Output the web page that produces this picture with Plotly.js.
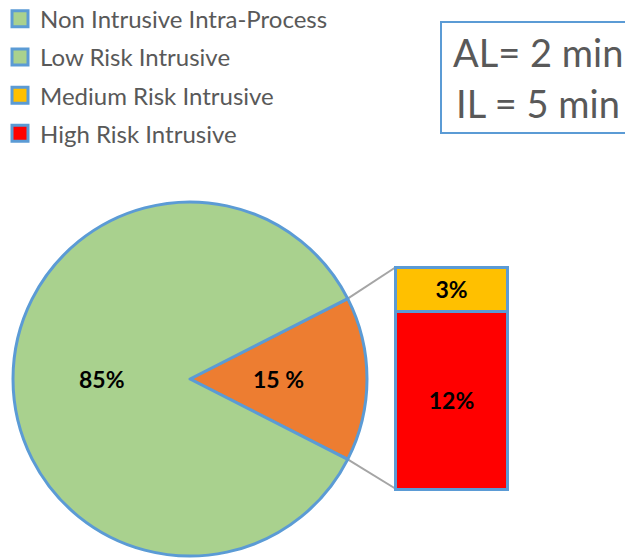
<!DOCTYPE html>
<html>
<head>
<meta charset="utf-8">
<script src="https://cdn.plot.ly/plotly-3.0.1.min.js"></script>
<style>html,body{margin:0;padding:0;background:#fff;}#chart{width:625px;height:559px;}</style>
</head>
<body>
<div id="chart"></div>
<script>
// ---- data ----
const pieCategories = ["Intrusive", "Non Intrusive Intra-Process"];
const pieValues = [15, 85];
const pieText = ["15 %", "85%"];
const barCategories = ["High Risk Intrusive", "Medium Risk Intrusive"];
const barValues = [12, 3];
const barText = ["12%", "3%"];
const legendLabels = ["Non Intrusive Intra-Process", "Low Risk Intrusive", "Medium Risk Intrusive", "High Risk Intrusive"];
const boxLines = ["AL= 2 min", "IL = 5 min"];

// ---- style ----
const W = 625, H = 559;
const GREEN = "#A9D18E", ORANGE = "#ED7D31", YELLOW = "#FFC000", RED = "#FF0000";
const BLUE = "#5B9BD5", GREY_TXT = "#595959";
const FONT = "Lato, 'Open Sans', sans-serif";

// pie placement (pixels)
const pieCx = 190, pieCy = 379, pieR = 177;
const pieDomX = [(pieCx - pieR) / W, (pieCx + pieR) / W];
const pieDomY = [(H - pieCy - pieR) / H, (H - pieCy + pieR) / H];

// bar axis placement
const xDomPx = [390, 513], yDomPx = [262, 494]; // left,right ; top,bottom (px from top)
const xRange = [-0.554, 0.554];
const yRange = [-0.338, 15.338];
const xDom = [xDomPx[0] / W, xDomPx[1] / W];
const yDom = [(H - yDomPx[1]) / H, (H - yDomPx[0]) / H];
function xToPaper(v) { return xDom[0] + (v - xRange[0]) / (xRange[1] - xRange[0]) * (xDom[1] - xDom[0]); }
function yToPaper(v) { return yDom[0] + (v - yRange[0]) / (yRange[1] - yRange[0]) * (yDom[1] - yDom[0]); }

// connector lines from edge of the small pie slice to bar corners
const total = pieValues.reduce((a, b) => a + b, 0);
const half = pieValues[0] / total * Math.PI; // half angle of first slice (radians)
const barTotal = barValues.reduce((a, b) => a + b, 0);
const edgeTop = { x: (pieCx + pieR * Math.cos(half)) / W, y: (H - (pieCy - pieR * Math.sin(half))) / H };
const edgeBot = { x: (pieCx + pieR * Math.cos(half)) / W, y: (H - (pieCy + pieR * Math.sin(half))) / H };
const barLeft = xToPaper(-0.5);

// pie labels at half radius along each slice's mid-angle (clockwise from 3 o'clock)
const pieLabelAnn = [];
let startFrac = -pieValues[0] / total / 2;
pieValues.forEach((v, i) => {
  const mid = (startFrac + v / total / 2) * 2 * Math.PI;
  startFrac += v / total;
  const px = pieCx + 0.5 * pieR * Math.cos(mid);
  const py = pieCy + 0.5 * pieR * Math.sin(mid);
  pieLabelAnn.push({ xref: "paper", yref: "paper", x: px / W, y: (H - py) / H, xanchor: "center", yanchor: "middle",
    text: "<b>" + pieText[i] + "</b>", showarrow: false, font: { family: FONT, size: 23, color: "#000" } });
});

const traces = [];
traces.push({
  type: "pie",
  labels: pieCategories,
  values: pieValues,
  textinfo: "none",
  textposition: "none",
  sort: false,
  direction: "clockwise",
  rotation: 90 - pieValues[0] / total * 180,
  marker: { colors: [ORANGE, GREEN], line: { color: BLUE, width: 3 } },
  domain: { x: pieDomX, y: pieDomY },
  showlegend: false,
  hoverinfo: "label+percent"
});
const barColors = [RED, YELLOW];
barCategories.forEach((c, i) => {
  traces.push({
    type: "bar",
    x: [0],
    y: [barValues[i]],
    name: c,
    text: [barText[i]],
    texttemplate: "<b>%{text}</b>",
    textposition: "inside",
    insidetextanchor: "middle",
    textfont: { family: FONT, size: 23, color: "#000" },
    constraintext: "none",
    width: 1,
    marker: { color: barColors[i], line: { color: BLUE, width: 3 } },
    showlegend: false,
    xaxis: "x", yaxis: "y"
  });
});
const legendColors = [GREEN, GREEN, YELLOW, RED];
legendLabels.forEach((l, i) => {
  traces.push({
    type: "scatter", mode: "markers",
    x: [null], y: [null],
    name: l,
    legendgroup: "g" + i,
    legendrank: i + 1,
    marker: { symbol: "square", size: 17, color: legendColors[i], line: { color: BLUE, width: 3 } },
    hoverinfo: "skip"
  });
});

const layout = {
  width: W, height: H,
  margin: { l: 0, r: 0, t: 0, b: 0, autoexpand: false },
  paper_bgcolor: "#fff", plot_bgcolor: "rgba(0,0,0,0)",
  barmode: "stack",
  bargap: 0,
  showlegend: true,
  legend: {
    x: 0, y: 1.006, xanchor: "left", yanchor: "top",
    traceorder: "grouped", tracegroupgap: 4,
    font: { family: FONT, size: 24, color: GREY_TXT },
    bgcolor: "rgba(0,0,0,0)", itemwidth: 30
  },
  xaxis: { domain: xDom, range: xRange, visible: false, fixedrange: true },
  yaxis: { domain: yDom, range: yRange, visible: false, fixedrange: true },
  shapes: [
    { type: "line", xref: "paper", yref: "paper", x0: edgeTop.x, y0: edgeTop.y, x1: barLeft, y1: yToPaper(barTotal), line: { color: "#A5A5A5", width: 2 }, layer: "below" },
    { type: "line", xref: "paper", yref: "paper", x0: edgeBot.x, y0: edgeBot.y, x1: barLeft, y1: yToPaper(0), line: { color: "#A5A5A5", width: 2 }, layer: "below" },
    { type: "rect", xref: "paper", yref: "paper", x0: 441 / W, x1: 1.2, y0: (H - 133) / H, y1: (H - 22) / H, line: { color: BLUE, width: 2 }, fillcolor: "rgba(0,0,0,0)" }
  ],
  annotations: [
    { xref: "paper", yref: "paper", x: 451 / W, y: (H - 52) / H, xanchor: "left", yanchor: "middle", text: boxLines[0], showarrow: false, font: { family: FONT, size: 38, color: GREY_TXT } },
    { xref: "paper", yref: "paper", x: 454 / W, y: (H - 103) / H, xanchor: "left", yanchor: "middle", text: boxLines[1], showarrow: false, font: { family: FONT, size: 38, color: GREY_TXT } }
  ].concat(pieLabelAnn)
};

Plotly.newPlot("chart", traces, layout, { displayModeBar: false, staticPlot: true });
</script>
</body>
</html>
